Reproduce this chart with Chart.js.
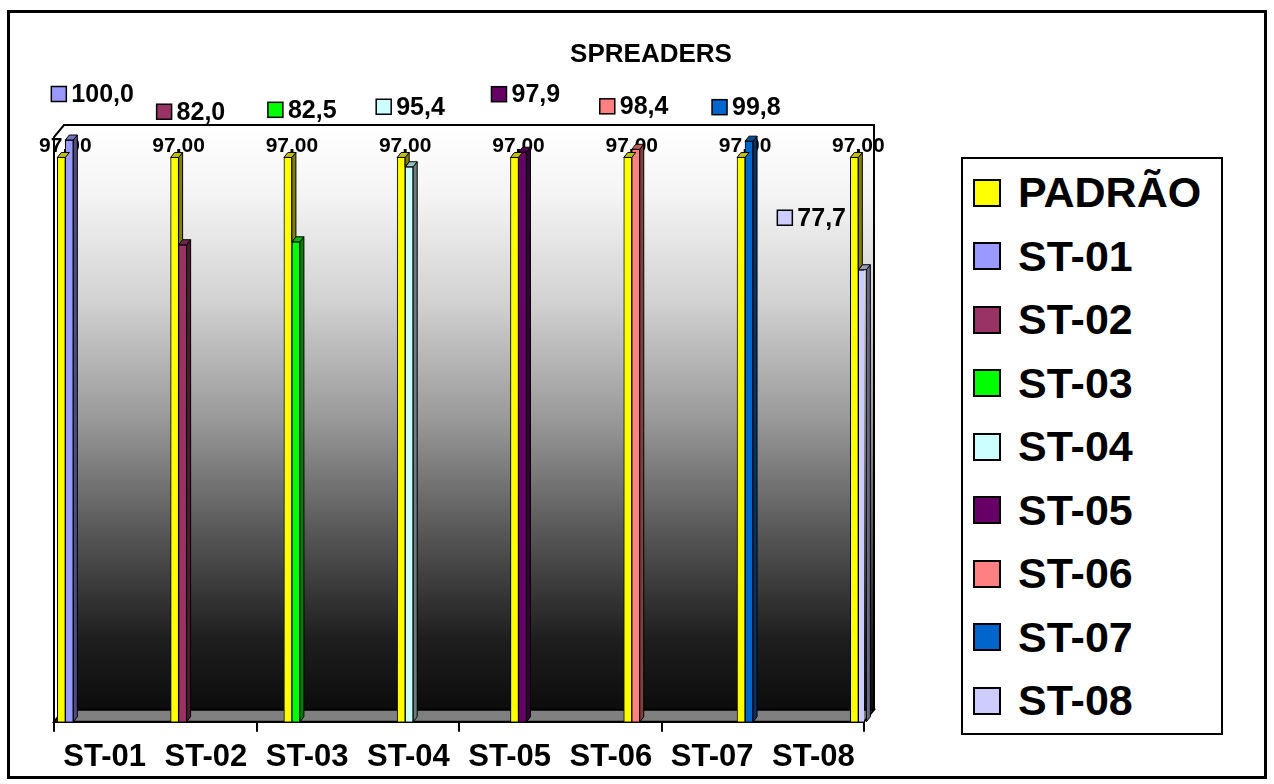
<!DOCTYPE html>
<html>
<head>
<meta charset="utf-8">
<script src="https://cdn.jsdelivr.net/npm/chart.js@4.4.1/dist/chart.umd.min.js"></script>
<style>
  html, body { margin: 0; padding: 0; background: #fff; }
  body { width: 1274px; height: 784px; position: relative; overflow: hidden;
         font-family: "Liberation Sans", Arial, sans-serif; }
  #frame { position: absolute; left: 7px; top: 10px; width: 1260px; height: 769px;
           border: 3px solid #000; box-sizing: border-box; }
  #wrap  { position: absolute; left: 0; top: 0; width: 1274px; height: 784px; }
  #title { position: absolute; left: 0; top: 38px; width: 1302px; text-align: center;
           font-weight: bold; font-size: 26px; line-height: 30px; }
  #legend { position: absolute; left: 961px; top: 157px; width: 262px; height: 578px;
            border: 2px solid #000; box-sizing: border-box; padding-top: 2px; background: #fff; }
  .row { height: 63.5px; display: flex; align-items: center; }
  .key { width: 28px; height: 28px; border: 2px solid #000; box-sizing: border-box;
         margin-left: 10px; margin-right: 17px; }
  .txt { font-weight: bold; font-size: 43px; line-height: 1; }
</style>
</head>
<body>
<div id="frame"></div>
<div id="wrap"><canvas id="chart"></canvas></div>
<div id="title">SPREADERS</div>
<div id="legend"></div>
<script>
"use strict";
const CATEGORIES    = ["ST-01", "ST-02", "ST-03", "ST-04", "ST-05", "ST-06", "ST-07", "ST-08"];
const SERIES_NAMES  = ["PADRÃO", "ST-01", "ST-02", "ST-03", "ST-04", "ST-05", "ST-06", "ST-07", "ST-08"];
const PADRAO_VALUES = [97, 97, 97, 97, 97, 97, 97, 97];
const ST_VALUES     = [100.0, 82.0, 82.5, 95.4, 97.9, 98.4, 99.8, 77.7];

const SERIES_COLORS = ["#ffff00", "#9999ff", "#993366", "#00ff00", "#ccffff",
                       "#660066", "#ff8080", "#0066cc", "#ccccff"];

// where each ST value label sits, relative to its bar top (dx, dy in px)
const LABEL_NUDGE = [[-18, -46], [-26, -133], [-28, -132], [-33, -60],
                     [-31, -58], [-36, -43], [-37, -34], [-85, -52]];

const WALL_DX = 10, WALL_DY = 12;   // depth of the 3D box
const BAR_DX = 4, BAR_DY = 5;       // depth of each column

function shade(hex, f) {
  const n = parseInt(hex.slice(1), 16);
  const r = Math.round(((n >> 16) & 255) * f);
  const g = Math.round(((n >> 8) & 255) * f);
  const b = Math.round((n & 255) * f);
  return `rgb(${r},${g},${b})`;
}
const fmt = (v, d) => v.toFixed(d).replace(".", ",");

/* ── legend ─────────────────────────────────────────────── */
document.getElementById("legend").innerHTML = SERIES_NAMES.map((name, i) =>
  `<div class="row"><div class="key" style="background:${SERIES_COLORS[i]}"></div><span class="txt">${name}</span></div>`
).join("");

/* ── datasets ───────────────────────────────────────────── */
const common = { xAxisID: "xb", yAxisID: "y", borderColor: "#000", borderWidth: 1,
                 barThickness: 8, skipNull: true };
const datasets = [{
  ...common,
  label: SERIES_NAMES[0],
  data: PADRAO_VALUES.map((v, i) => ({ x: i, y: v })),
  backgroundColor: SERIES_COLORS[0],
}].concat(ST_VALUES.map((v, k) => ({
  ...common,
  label: SERIES_NAMES[k + 1],
  data: CATEGORIES.map((_, i) => ({ x: i, y: i === k ? v : null })),
  backgroundColor: SERIES_COLORS[k + 1],
})));

function face(ctx, pts, fill) {
  ctx.beginPath();
  ctx.moveTo(pts[0][0], pts[0][1]);
  for (let i = 1; i < pts.length; i++) ctx.lineTo(pts[i][0], pts[i][1]);
  ctx.closePath();
  ctx.fillStyle = fill;
  ctx.fill();
  ctx.stroke();
}

/* ── 3D box, floor and labels ───────────────────────────── */
const box3d = {
  id: "box3d",
  beforeDatasetsDraw(chart) {
    const { ctx, chartArea: a } = chart;
    const wl = a.left + WALL_DX, wr = a.right + WALL_DX;
    const wt = a.top - 15, wb = a.bottom - WALL_DY;
    ctx.save();
    const g = ctx.createLinearGradient(0, wt, 0, wb);
    g.addColorStop(0, "#ffffff");
    g.addColorStop(0.12, "#f4f4f4");
    g.addColorStop(0.3, "#d2d2d2");
    g.addColorStop(0.5, "#9a9a9a");
    g.addColorStop(0.7, "#565656");
    g.addColorStop(0.88, "#1e1e1e");
    g.addColorStop(1, "#0c0c0c");
    ctx.fillStyle = g;
    ctx.fillRect(wl, wt, wr - wl, wb - wt);

    // floor
    ctx.strokeStyle = "#000";
    ctx.lineWidth = 2;
    face(ctx, [[a.left, a.bottom], [a.right, a.bottom], [wr, wb], [wl, wb]], "#808080");

    // wall edges
    ctx.beginPath();
    ctx.moveTo(a.left, a.bottom);
    ctx.lineTo(a.left, wt + WALL_DY);
    ctx.lineTo(wl, wt);
    ctx.lineTo(wr, wt);
    ctx.lineTo(wr, wb);
    ctx.stroke();

    // PADRÃO labels sit behind the columns
    const meta = chart.getDatasetMeta(0);
    ctx.font = "bold 21px 'Liberation Sans', Arial, sans-serif";
    ctx.fillStyle = "#000";
    ctx.textAlign = "center";
    ctx.textBaseline = "middle";
    meta.data.forEach((el, i) => {
      ctx.fillText(fmt(PADRAO_VALUES[i], 2), el.x + el.width / 2, el.y - 11);
    });
    ctx.restore();
  },
  afterDatasetDraw(chart, args) {
    const { ctx } = chart;
    const ds = chart.data.datasets[args.index];
    const col = SERIES_COLORS[args.index];
    ctx.save();
    ctx.strokeStyle = "#000";
    ctx.lineWidth = 1;
    args.meta.data.forEach((el, i) => {
      if (ds.data[i].y === null) return;
      const l = el.x - el.width / 2, r = el.x + el.width / 2;
      // PADRÃO is drawn last: its side only shows above the column beside it
      let sideBottom = el.base;
      if (args.index === 0) {
        const nb = chart.getDatasetMeta(i + 1).data[i];
        sideBottom = Math.max(el.y, nb.y);
      }
      if (sideBottom > el.y) {
        face(ctx, [[r, el.y], [r + BAR_DX, el.y - BAR_DY], [r + BAR_DX, sideBottom - BAR_DY], [r, sideBottom]],
             shade(col, 0.5));
      }
      face(ctx, [[l, el.y], [r, el.y], [r + BAR_DX, el.y - BAR_DY], [l + BAR_DX, el.y - BAR_DY]],
           shade(col, 0.75));
    });
    ctx.restore();
  },
  afterDatasetsDraw(chart) {
    const { ctx } = chart;
    ctx.save();
    ctx.font = "bold 25px 'Liberation Sans', Arial, sans-serif";
    ctx.textAlign = "left";
    ctx.textBaseline = "middle";
    ST_VALUES.forEach((v, k) => {
      const el = chart.getDatasetMeta(k + 1).data[k];
      const [dx, dy] = LABEL_NUDGE[k];
      const sx = el.x + dx, sy = el.y + dy;
      ctx.fillStyle = SERIES_COLORS[k + 1];
      ctx.fillRect(sx, sy - 7.5, 15, 15);
      ctx.strokeStyle = "#000";
      ctx.lineWidth = 1.5;
      ctx.strokeRect(sx, sy - 7.5, 15, 15);
      ctx.fillStyle = "#000";
      ctx.fillText(fmt(v, 1), sx + 20, sy + 1);
    });
    ctx.restore();
  },
};

new Chart(document.getElementById("chart"), {
  type: "bar",
  data: { labels: CATEGORIES, datasets },
  options: {
    responsive: true,
    maintainAspectRatio: false,
    animation: false,
    devicePixelRatio: 1,
    layout: { padding: { left: 54, right: 410, top: 140, bottom: 1 } },
    plugins: { legend: { display: false }, title: { display: false }, tooltip: { enabled: false } },
    scales: {
      x: {
        type: "category",
        offset: true,
        grid: {
          offset: true,
          drawOnChartArea: false,
          drawTicks: true,
          tickLength: 10,
          lineWidth: 2,
          color: (c) => (c.index === undefined || c.index % 2 === 0) ? "#000" : "rgba(0,0,0,0)",
        },
        border: { display: true, color: "#000", width: 2 },
        ticks: {
          color: "#000",
          padding: 7,
          maxRotation: 0,
          autoSkip: false,
          font: { family: "'Liberation Sans', Arial, sans-serif", size: 31, weight: "bold" },
        },
      },
      xb: { type: "linear", display: false, offset: false, min: -0.1, max: 7.05 },
      y:  { type: "linear", display: false, min: 0, max: 100 },
    },
  },
  plugins: [box3d],
});
</script>
</body>
</html>
